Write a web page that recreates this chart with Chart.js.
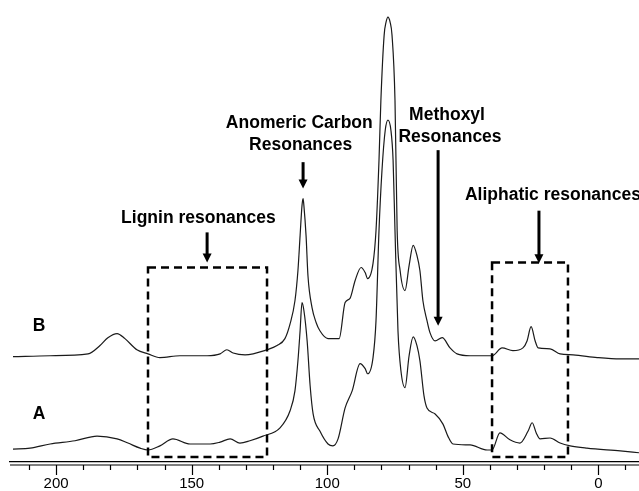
<!DOCTYPE html>
<html>
<head>
<meta charset="utf-8">
<script src="https://cdn.jsdelivr.net/npm/chart.js@4.4.1/dist/chart.umd.min.js"></script>
<style>
  html, body { margin: 0; padding: 0; background: #fff; }
  #wrap { width: 639px; height: 491px; }
</style>
</head>
<body>
<div id="wrap"><canvas id="myChart"></canvas></div>
<script>
// chemical shift (ppm) and intensity
const ppmB = [215.9, 202.2, 188.2, 183.8, 180.9, 177.5, 174.6, 170.2, 166.1, 161.7, 154.3, 144.3, 139.5, 137.0, 134.7, 130.3, 122.2, 118.5, 115.6, 113.7, 111.9, 110.8, 110.0, 109.3, 108.9, 108.6, 107.8, 107.1, 105.6, 104.1, 102.7, 99.7, 95.6, 93.4, 91.6, 89.7, 87.5, 86.0, 85.1, 83.1, 82.0, 80.9, 80.2, 79.0, 78.3, 77.6, 76.8, 76.1, 75.0, 74.2, 73.1, 71.3, 69.8, 68.3, 66.9, 65.8, 64.7, 63.2, 62.1, 60.2, 57.6, 54.7, 52.1, 47.3, 41.0, 39.2, 35.5, 31.5, 27.8, 26.3, 24.8, 23.3, 22.2, 17.8, 14.1, 9.3, 0.4, -8.1, -15.0]
const intB = [22.8, 23.0, 23.4, 25.2, 26.9, 27.8, 26.7, 24.3, 23.4, 22.6, 23.0, 23.0, 23.4, 24.3, 23.6, 23.2, 24.3, 25.2, 26.7, 29.9, 34.9, 41.4, 49.0, 55.5, 57.0, 55.5, 49.0, 40.3, 33.4, 30.2, 28.4, 26.7, 26.7, 34.5, 35.4, 39.3, 42.1, 41.0, 39.7, 43.0, 50.1, 65.3, 78.3, 92.4, 95.2, 96.3, 95.2, 92.4, 78.3, 50.1, 41.4, 37.1, 42.5, 46.9, 44.7, 41.4, 34.9, 30.6, 28.0, 26.2, 26.9, 24.7, 23.4, 23.0, 23.0, 23.0, 24.7, 24.1, 24.7, 26.2, 29.3, 26.2, 24.7, 24.5, 23.4, 23.2, 22.6, 22.3, 22.3]

const ppmA = [215.9, 209.6, 202.2, 193.0, 184.9, 177.5, 173.5, 169.0, 166.1, 161.7, 156.9, 150.6, 143.2, 139.5, 135.8, 132.2, 128.5, 123.7, 117.4, 113.7, 111.9, 110.8, 110.0, 109.3, 108.6, 107.4, 106.3, 105.2, 102.7, 99.7, 97.9, 96.0, 93.4, 90.8, 87.9, 86.0, 85.1, 83.1, 82.0, 80.9, 79.8, 78.6, 77.6, 76.5, 75.7, 75.0, 73.9, 72.8, 71.3, 69.8, 68.3, 66.9, 65.8, 64.3, 63.2, 60.2, 57.3, 55.5, 53.6, 47.3, 41.0, 39.2, 36.3, 32.6, 28.9, 25.9, 24.4, 22.9, 21.5, 17.8, 14.1, 10.4, 4.2, -8.1, -15.0]
const intA = [2.8, 3.0, 3.9, 4.6, 5.6, 5.0, 4.1, 3.0, 2.6, 3.5, 5.0, 3.9, 3.9, 4.3, 5.0, 4.1, 4.6, 5.6, 7.4, 11.1, 15.4, 21.9, 28.4, 34.5, 32.8, 26.2, 16.5, 10.4, 6.7, 3.9, 3.5, 5.0, 11.7, 15.4, 21.3, 20.2, 19.1, 22.6, 30.6, 50.1, 63.1, 71.8, 74.0, 71.8, 65.3, 50.1, 28.4, 19.7, 16.1, 23.0, 27.1, 25.2, 21.9, 14.3, 11.7, 10.4, 8.2, 5.6, 3.9, 3.7, 2.6, 2.6, 6.3, 4.8, 4.1, 6.7, 8.5, 6.3, 5.0, 5.2, 4.1, 3.5, 3.0, 2.4, 2.0]

const tickValues = [210, 200, 190, 180, 170, 160, 150, 140, 130, 120, 110, 100, 90, 80, 70, 60, 50, 40, 30, 20, 10, 0, -10]
const tickLabels = [200, 150, 100, 50, 0]

// annotation placement, in ppm / intensity units
const boxes = [
  { from: 166.1, to: 122.2, top: 42.1, bottom: 1.1 },
  { from: 39.2, to: 11.2, top: 43.2, bottom: 1.1 },
]
const arrows = [
  { ppm: 144.3, from: 49.7, to: 43.2 },
  { ppm: 108.9, from: 64.9, to: 59.2 },
  { ppm: 59.1, from: 67.5, to: 29.5 },
  { ppm: 21.9, from: 54.4, to: 43.0 },
]
const notes = [
  { text: 'Lignin resonances', ppm: 147.5, level: 52.7, align: 'center' },
  { text: 'Anomeric Carbon', ppm: 110.3, level: 73.3, align: 'center' },
  { text: 'Resonances', ppm: 109.8, level: 68.5, align: 'center' },
  { text: 'Methoxyl', ppm: 55.8, level: 75.1, align: 'center' },
  { text: 'Resonances', ppm: 54.7, level: 70.3, align: 'center' },
  { text: 'Aliphatic resonances', ppm: 49.2, level: 57.7, align: 'left' },
  { text: 'B', ppm: 206.3, level: 29.3, align: 'center' },
  { text: 'A', ppm: 206.3, level: 10.4, align: 'center' },
]

const toPoints = (xs, ys) => xs.map((v, i) => ({ x: v, y: ys[i] }))

const annotate = {
  id: 'annotate',
  afterDatasetsDraw(chart) {
    const { ctx, scales: { x, y } } = chart
    ctx.save()
    ctx.strokeStyle = '#000'
    ctx.fillStyle = '#000'

    // dashed boxes
    ctx.lineWidth = 2.5
    ctx.setLineDash([8, 5])
    boxes.forEach((b) => {
      const x0 = x.getPixelForValue(b.from)
      const x1 = x.getPixelForValue(b.to)
      const y0 = y.getPixelForValue(b.top)
      const y1 = y.getPixelForValue(b.bottom)
      ctx.strokeRect(x0, y0, x1 - x0, y1 - y0)
    })
    ctx.setLineDash([])

    // arrows pointing down
    arrows.forEach((a) => {
      const px = x.getPixelForValue(a.ppm)
      const y0 = y.getPixelForValue(a.from)
      const y1 = y.getPixelForValue(a.to)
      ctx.lineWidth = 3
      ctx.beginPath()
      ctx.moveTo(px, y0)
      ctx.lineTo(px, y1 - 8)
      ctx.stroke()
      ctx.beginPath()
      ctx.moveTo(px - 4.5, y1 - 9)
      ctx.lineTo(px + 4.5, y1 - 9)
      ctx.lineTo(px, y1)
      ctx.closePath()
      ctx.fill()
    })

    // labels
    ctx.font = 'bold 17.5px "Liberation Sans", Arial, sans-serif'
    ctx.textBaseline = 'middle'
    notes.forEach((n) => {
      ctx.textAlign = n.align
      ctx.fillText(n.text, x.getPixelForValue(n.ppm), y.getPixelForValue(n.level))
    })
    ctx.restore()
  },
  afterDraw(chart) {
    const { ctx, chartArea, scales: { x } } = chart
    const base = chartArea.bottom + 3
    ctx.save()
    ctx.strokeStyle = '#000'
    ctx.lineWidth = 1.2
    ctx.beginPath()
    ctx.moveTo(chartArea.left, base)
    ctx.lineTo(chartArea.right, base)
    tickValues.forEach((v) => {
      const px = Math.round(x.getPixelForValue(v)) + 0.5
      const len = tickLabels.includes(v) ? 10 : 5
      ctx.moveTo(px, base)
      ctx.lineTo(px, base + len)
    })
    ctx.stroke()
    ctx.restore()
  },
}

const lineStyle = {
  borderColor: '#1a1a1a',
  borderWidth: 1.2,
  pointRadius: 0,
  fill: false,
  cubicInterpolationMode: 'monotone',
}

const myChart = new Chart(document.getElementById('myChart'), {
  type: 'line',
  data: {
    datasets: [
      { label: 'B', data: toPoints(ppmB, intB), ...lineStyle },
      { label: 'A', data: toPoints(ppmA, intA), ...lineStyle },
    ],
  },
  options: {
    responsive: true,
    maintainAspectRatio: false,
    animation: false,
    layout: { padding: { left: 10, right: 0, top: 0, bottom: -15 } },
    plugins: { legend: { display: false }, tooltip: { enabled: false } },
    scales: {
      x: {
        type: 'linear',
        reverse: true,
        min: -15,
        max: 217,
        afterBuildTicks: (axis) => {
          axis.ticks = tickValues.map((v) => ({ value: v }))
        },
        grid: { display: false, drawTicks: false },
        border: { display: true, color: '#000', width: 1.2 },
        ticks: {
          autoSkip: false,
          maxRotation: 0,
          padding: 13,
          color: '#000',
          font: { family: '"Liberation Sans", Arial, sans-serif', size: 15 },
          callback: (value) => (tickLabels.includes(value) ? String(value) : ''),
        },
      },
      y: {
        display: false,
        min: 0,
        max: 100,
      },
    },
  },
  plugins: [annotate],
})
</script>
</body>
</html>
